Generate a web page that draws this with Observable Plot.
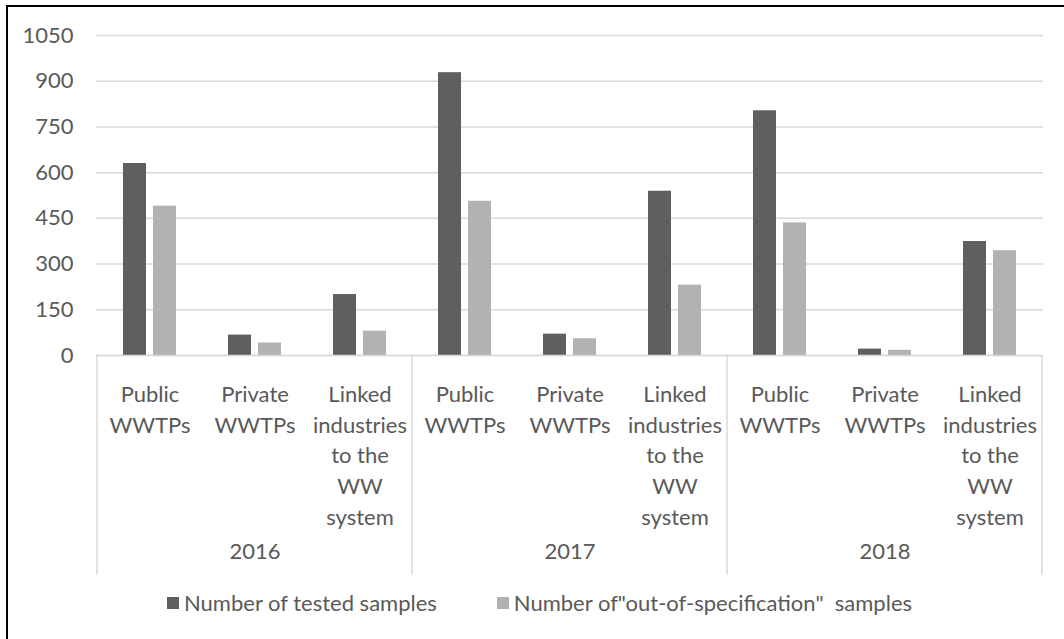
<!DOCTYPE html>
<html><head><meta charset="utf-8">
<script src="https://cdn.jsdelivr.net/npm/d3@7"></script>
<script src="https://cdn.jsdelivr.net/npm/@observablehq/plot@0.6"></script>
<style>
html,body{margin:0;padding:0;background:#fff;}
body{width:1064px;height:639px;position:relative;overflow:hidden;font-family:Lato,sans-serif;}
#bt{position:absolute;left:6px;top:5px;width:1058px;height:2px;background:#000;}
#bl{position:absolute;left:6px;top:5px;width:2px;height:634px;background:#000;}
#chart{position:absolute;left:0;top:0;}
#legend{position:absolute;left:167px;top:590px;display:flex;align-items:center;font-size:22px;line-height:26px;color:#595959;white-space:pre;}
.item{display:flex;align-items:center;margin-right:60px}
.sw{width:12px;height:12px;margin-right:5px}
</style></head><body>
<div id="bt"></div>
<div id="bl"></div>
<div id="chart"></div>
<div id="legend"></div>
<script>
const years = ["2016", "2017", "2018"];
const categories = ["Public WWTPs", "Private WWTPs", "Linked industries to the WW system"];
const categoryLabels = ["Public\nWWTPs", "Private\nWWTPs", "Linked\nindustries\nto the\nWW\nsystem"];
const series = ["Number of tested samples", "Number of\"out-of-specification\"  samples"];
// values in order: 2016 (Public, Private, Linked), 2017 (...), 2018 (...)
const tested = [630, 67, 200, 928, 70, 539, 803, 21, 374];
const outOfSpec = [490, 41, 80, 506, 55, 231, 435, 17, 344];
const yTicks = [0, 150, 300, 450, 600, 750, 900, 1050];
const colors = ["#5f5f5f", "#b2b2b2"];

const rows = [];
const labelOf = {};
years.forEach((yr, i) => categories.forEach((c, j) => {
  const key = yr + "|" + c;
  labelOf[key] = categoryLabels[j];
  rows.push({key, year: yr, category: c, tested: tested[i * 3 + j], outOfSpec: outOfSpec[i * 3 + j]});
}));
const keys = rows.map(d => d.key);

function dividers(index, scales, values, dimensions) {
  const x = scales.x;
  const bw = typeof x.bandwidth === "function" ? x.bandwidth() : x.bandwidth;
  const y0 = dimensions.height - dimensions.marginBottom;
  const xs = years.map(yr => x(yr + "|" + categories[0]));
  xs.push(x(years[years.length - 1] + "|" + categories[categories.length - 1]) + bw);
  const g = d3.create("svg:g");
  g.selectAll("line").data(xs).join("line")
    .attr("x1", d => d).attr("x2", d => d)
    .attr("y1", y0).attr("y2", y0 + 219.5)
    .attr("stroke", "#d9d9d9").attr("stroke-width", 1.5);
  return g.node();
}

const plot = Plot.plot({
  width: 1064, height: 590,
  marginLeft: 96, marginRight: 21, marginTop: 35, marginBottom: 235,
  style: {fontFamily: "Lato, sans-serif", fontSize: "22px", color: "#595959", background: "transparent", overflow: "visible"},
  x: {type: "band", domain: keys, padding: 0, axis: null, label: null},
  y: {domain: [0, 1050], axis: null, label: null},
  marks: [
    Plot.gridY(yTicks, {stroke: "#d9d9d9", strokeOpacity: 1, strokeWidth: 1.5}),
    Plot.axisY(yTicks, {tickSize: 0, tickPadding: 23, label: null, fontSize: 22, tickFormat: d => String(d)}),
    Plot.barY(rows, {x: "key", y: "tested", fill: colors[0], insetLeft: 26, insetRight: 56}),
    Plot.barY(rows, {x: "key", y: "outOfSpec", fill: colors[1], insetLeft: 56, insetRight: 26}),
    Plot.ruleY([0], {stroke: "#d9d9d9", strokeWidth: 1.5}),
    Plot.axisX(keys, {tickSize: 0, tickPadding: 25, tickFormat: k => labelOf[k], lineHeight: 1.39, label: null, fontSize: 22}),
    Plot.text(years, {x: yr => yr + "|" + categories[1], text: d => d, frameAnchor: "bottom", dy: 203, fontSize: 22, fill: "#595959"}),
    dividers
  ]
});
document.getElementById("chart").appendChild(plot);

const legend = document.getElementById("legend");
series.forEach((s, i) => {
  const item = document.createElement("div");
  item.className = "item";
  const sw = document.createElement("span");
  sw.className = "sw";
  sw.style.background = colors[i];
  const t = document.createElement("span");
  t.textContent = s;
  item.appendChild(sw); item.appendChild(t);
  legend.appendChild(item);
});
</script>
</body></html>
